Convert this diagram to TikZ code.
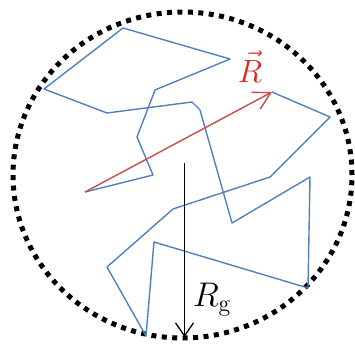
\documentclass[tikz,border=0pt]{standalone}
\usepackage{graphicx}
\usetikzlibrary{arrows.meta}
\definecolor{walkblue}{RGB}{79,129,189}
\definecolor{vecred}{RGB}{196,78,75}
\definecolor{txtred}{RGB}{225,35,35}
\begin{document}
\begin{tikzpicture}[x=1pt,y=-1pt,
  walk/.style={draw=walkblue, line width=1.4pt, line join=round},
  rvec/.style={draw=vecred, line width=1.4pt, -{Straight Barb[length=17pt,width=19pt,line width=1.4pt]}},
  rg/.style={draw=black, line width=1.3pt, -{Straight Barb[length=13pt,width=18pt,line width=1.3pt]}},
  bound/.style={draw=black, line width=5pt, line cap=butt, dash pattern=on 5pt off 5.45pt},
  lbl/.style={inner sep=0pt, font=\huge}]
\useasboundingbox (0,0) rectangle (355,343);
\draw[bound] (182.5,175) ellipse [x radius=169.5pt, y radius=163pt];
\coordinate (s) at (85,192);
\coordinate (e) at (272,92);
\draw[walk] (s) -- (153,175) -- (137,137) -- (155,90) -- (230,59) -- (123,28) -- (44,89)
  -- (107,113) -- (192,102) -- (200,110) -- (232,223) -- (310,177) -- (308,288)
  -- (154,242) -- (146,336) -- (107,267) -- (173,209) -- (270,177) -- (330,117) -- (e);
\draw[rvec] (s) -- (e);
\coordinate (gtop) at (184.5,163);
\coordinate (gbot) at (184.5,337);
\draw[rg] (gtop) -- (gbot);
\node[lbl, text=txtred, anchor=base] (R) at (250,82) {\scalebox{1.55}{$\vec{R}$}};
\node[lbl, anchor=base west] (Rg) at (193,306) {\scalebox{1.65}{$R_{\mathrm{g}}$}};
\end{tikzpicture}
\end{document}
